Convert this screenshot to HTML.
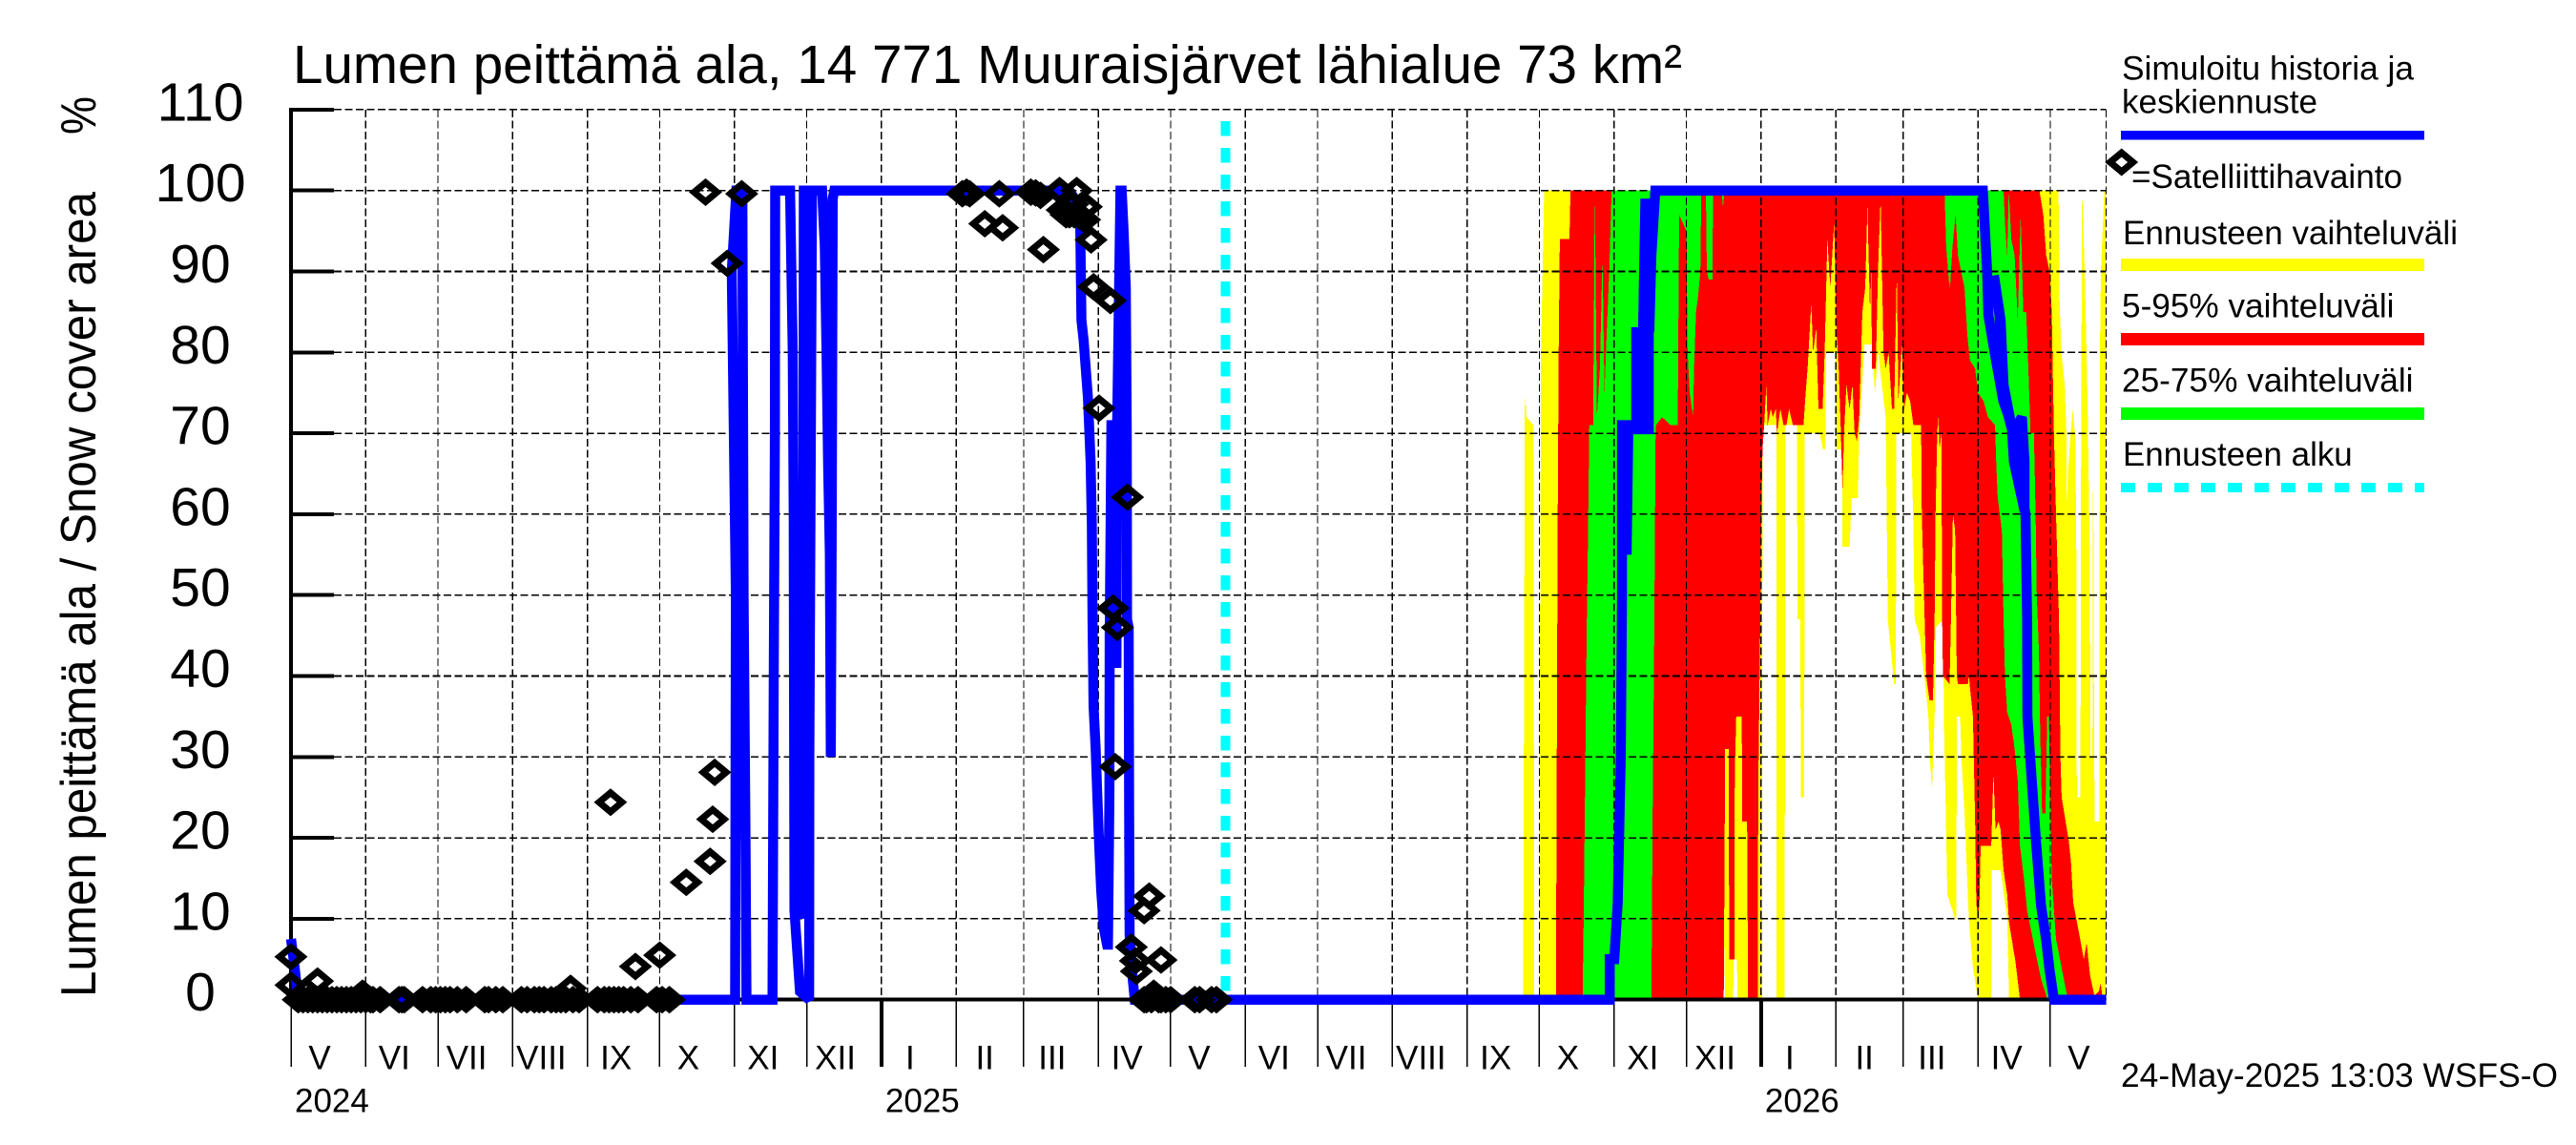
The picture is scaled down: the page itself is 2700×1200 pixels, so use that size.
<!DOCTYPE html>
<html lang="fi">
<head>
<meta charset="utf-8">
<title>Lumen peittämä ala</title>
<style>
html,body{margin:0;padding:0;background:#fff;}
svg{display:block;}
text{font-family:"Liberation Sans",Arial,sans-serif;fill:#000;}
</style>
</head>
<body>
<svg id="chart" xmlns="http://www.w3.org/2000/svg" width="2700" height="1200" viewBox="0 0 2700 1200">
  <rect x="0" y="0" width="2700" height="1200" fill="#fff"/>
  <g id="bands" shape-rendering="crispEdges"></g>
  <g id="grid" shape-rendering="crispEdges"></g>
  <g id="axes" shape-rendering="crispEdges"></g>
  <g id="start"></g>
  <g id="lines"></g>
  <g id="observations"></g>
  <g id="labels"></g>

  <text x="307" y="87" font-size="57" textLength="1456" lengthAdjust="spacingAndGlyphs">Lumen peittämä ala, 14 771 Muuraisjärvet lähialue 73 km²</text>
  <text transform="translate(100,1045) rotate(-90)" font-size="52" textLength="844" lengthAdjust="spacingAndGlyphs">Lumen peittämä ala / Snow cover area</text>
  <text transform="translate(100,141) rotate(-90)" font-size="52" textLength="40" lengthAdjust="spacingAndGlyphs">%</text>

  <g>
    <text x="2224" y="83.5" font-size="35" textLength="306" lengthAdjust="spacingAndGlyphs">Simuloitu historia ja</text>
    <text x="2224" y="118.5" font-size="35" textLength="205" lengthAdjust="spacingAndGlyphs">keskiennuste</text>
    <rect x="2223" y="137" width="318" height="9.5" fill="#0000ff" shape-rendering="crispEdges"/>
    <polygon points="2211.7,170 2223.7,160 2235.7,170 2223.7,180" fill="none" stroke="#000" stroke-width="7"/>
    <text x="2234" y="197" font-size="35" textLength="284" lengthAdjust="spacingAndGlyphs">=Satelliittihavainto</text>
    <text x="2225" y="256" font-size="35" textLength="351" lengthAdjust="spacingAndGlyphs">Ennusteen vaihteluväli</text>
    <rect x="2223" y="271" width="318" height="13" fill="#ffff00" shape-rendering="crispEdges"/>
    <text x="2224" y="332.5" font-size="35" textLength="285.5" lengthAdjust="spacingAndGlyphs">5-95% vaihteluväli</text>
    <rect x="2223" y="349" width="318" height="13" fill="#ff0000" shape-rendering="crispEdges"/>
    <text x="2224" y="410.5" font-size="35" textLength="305.5" lengthAdjust="spacingAndGlyphs">25-75% vaihteluväli</text>
    <rect x="2223" y="427" width="318" height="13" fill="#00ff00" shape-rendering="crispEdges"/>
    <text x="2225" y="488" font-size="35" textLength="240.7" lengthAdjust="spacingAndGlyphs">Ennusteen alku</text>
    <line x1="2223" y1="511" x2="2541" y2="511" stroke="#00ffff" stroke-width="10" stroke-dasharray="15 13" shape-rendering="crispEdges"/>
  </g>
  <text x="2223" y="1139" font-size="35" textLength="458" lengthAdjust="spacingAndGlyphs">24-May-2025 13:03 WSFS-O</text>
</svg>

<script>
// Axis data. Days are counted from 2024-05-01.
const yTicks = [0, 10, 20, 30, 40, 50, 60, 70, 80, 90, 100, 110];
const monthDays = [0, 31, 61, 92, 123, 153, 184, 214, 245, 276, 304, 335, 365, 396, 426, 457, 488, 518, 549, 579, 610, 641, 669, 700, 730];
const monthLabels = ["V", "VI", "VII", "VIII", "IX", "X", "XI", "XII", "I", "II", "III", "IV", "V", "VI", "VII", "VIII", "IX", "X", "XI", "XII", "I", "II", "III", "IV", "V"];
const yearDays = [0, 245, 610];
const yearLabels = ["2024", "2025", "2026"];
const lastDay = 753.2;
const forecastStartDay = 387.8;

// Forecast ranges: upper and lower edge of each band.
const yellowHighDays = [511.3,512,512.7,515.5,515.9,518,518.2,518.7,520,733.4,733.9,734.6,736,736.7,736.9,737.3,738.7,739.4,740.4,740.8,741,742.5,742.7,743,743.2,744.3,745.4,746.4,746.7,747.5,747.8,748.2,748.5,750.3,750.6,751,752.4,753.1];
const yellowHighValues = [0,75,72,71,0,0,40,80,100,100,86,80,76,70,60,65,71,73,69,55,25,25,60,85,100,90,75,55,30,30,71,30,22,22,80,90,100,100];
const yellowLowDays = [511.3,594.2,594.5,595.1,598.4,598.6,600,600.2,610.4,610.6,616.3,616.4,619.8,620,624.9,625.1,626.3,626.5,627.9,628.1,634.3,635.7,636.6,637,640.8,641.4,643.5,643.8,646.7,647.6,650.2,650.7,652.9,655.9,657.3,658.5,661.7,662.6,665.2,665.9,666.1,672.3,673.2,673.7,675.8,678.1,679.4,680.2,680.9,682,682.5,685.5,685.9,687.3,690.5,691,691.2,692.6,693.1,694.4,696.2,697.9,700,705.5,705.7,709.4,712.1,712.9,753.1];
const yellowLowValues = [0,0,10,0,0,5,5,0,0,71,71,0,0,71,71,47,47,25,25,70,70,68,68,80,80,68,68,56,56,62,62,70,81,81,75,80,72,47,39,39,70,70,58,47,45,39,35,29,26,35,46,47,34,13,10,10,35,35,30,23,10,4,0,0,16,16,10,0,0];

const redHighDays = [524.9,525.1,525.6,526,526.5,530.5,530.9,725.5,727.1,728.3,729.7,730.6,731.5,732.4,733.6,734.2,734.7,737.7,738.6,739.5,742.1,743.9,745.1,746.5,748.3,750.1,750.9,751.8,753.1];
const redHighValues = [0,20,60,80,94,94,100,100,97,92,90,85,70,60,47,30,25,19.6,17,12,8,5,7,3,0.5,1,2,0,0];
const redLowDays = [524.9,594.5,594.7,595.1,596.5,596.8,598.9,599.1,599.7,602,602.1,604.2,604.6,608.7,608.8,609.6,610.1,610.6,611.3,612.2,612.7,614,614.9,616.1,616.6,618,619.3,620.5,621.6,623.2,627.6,628.5,629.3,630.8,631.6,632.9,633.8,635.5,636.4,637.5,638.7,640.3,641.4,642.2,643.1,643.8,644.4,645.4,646.7,647.9,648.8,649.8,650.7,652,653.2,654.1,655.2,655.7,656,657.6,658.5,659.6,660.8,661.7,662.9,664.3,665.2,666.3,667,668.4,669.3,670.5,671.8,673.2,676.4,676.7,677.6,678.5,679.9,681.3,682,682.4,683.1,683.4,684.1,684.8,685.2,685.5,688.2,688.7,689.6,690.5,691.2,691.7,695.8,696.2,697.9,698.8,699.3,700,700.6,701.1,705.5,706.4,707.3,708.5,709.4,710.6,712.1,712.9,715.6,717.4,753.1];
const redLowValues = [0,0,10,31,31,5,5,28,35,35,22,22,0,0,25,45,60,68,71,76,71,73,72,73,70,73,71,71,73,71,71,75,78,86,80,83,73,73,80,94,88,96,82,78,70,63,70,76,73,76,70,69,72,85,88,98,85,90,78,78,90,99,80,78,80,73,73,90,74,81,73,75,74,71,71,60,50,40,37,37,47,60,70,72,68,70,45,40,39,46,60,58,40,39,39,40,35,22,12,10,12,19,19,28,21,22,21,16,13,9.5,4.6,0,0];

const greenHighDays = [535.9,536.4,537.1,537.6,538.1,538.7,540.3,541,541.9,543.1,544.2,545,545.9,547,548,710.6,711.2,712.1,712.8,713.8,715.2,716.5,717.7,718.8,720,720.9,721.8,723.2,723.9,724.4,725.3,725.8,726.6,728,728.7,729.4,730.1,730.6,732.4,735,737.3];
const greenHighValues = [0,10,30,45,55,71,71,100,72,78,92,75,82,90,100,100,96,92,100,94,92,84,97,85,85,78,70,70,60,50,43,33,23,23,35,35,24,15,7.5,3.5,0];
const greenLowDays = [535.9,564.5,565,565.7,566.2,566.4,568.9,572.4,575.4,576,579,579.5,580.4,581.8,582.2,583,583.9,584.8,585.2,587.1,587.5,588.3,589.8,590.1,593.6,594.2,594.9,686.1,686.8,687.9,688.4,689.4,690.7,691.7,693,694.4,695.6,696.7,698.8,700,702.3,704.1,707.1,707.6,708.2,709.9,710.6,711.2,712.1,713.8,715.2,716.5,717.4,719.1,720.4,722.7,726.2,728.9,737.3];
const greenLowValues = [0,0,23,47,69,71,72,71,71,97,95,80,75,72,78,85,87,90,100,100,90,89,89,100,100,98,100,100,93,89,88,93,97,92,90,88,82,79,78,75,74,72,71,66,62,58,47,40,35.5,34,31,27,19,15,11,7.6,2.5,0,0];

// Simulated history and mean forecast.
const historyDays = [0,1.5,3,182.2,184.3,184.6,182.9,184.8,187.3,187.8,188.6,189,199.8,200.3,200.8,200.9,207.1,208.2,208.6,208.9,210.3,211.2,215,215.1,216.2,212.8,212.5,212.8,218.2,220.4,221.5,222.2,222.9,223.6,224,224.4,224.8,225.4,323,327.2,327.5,328,328.9,330.7,331.8,332.3,332.6,333,333.9,334.6,335.3,336.2,337.3,338.6,339,339.6,339.7,340,340.4,342.5,342.5,342.8,344.2,344.7,345.5,346.4,346.8,346.9,347.6,347.8,348,349.3,350.1,387.8];
const historyValues = [7.5,4,0,0,0,50,90,100,100,50,20,0,0,40,70,100,100,80,60,11,5,1,0,30,100,100,10,100,100,100,93,80,66,55,30,60,99,100,100,98,95,84,81.5,74.4,66.5,58.7,47.3,36.3,31,25,19.4,13.5,8.8,6.8,6.8,25,45,55,71,71,41,71,100,100,95,88,70,47,46,23,8,2.5,0,0];
const forecastDays = [387.8,547.2,547.2,549.1,550.5,551.8,552.3,552.3,554.2,554.2,554.9,563.4,563.4,558.2,558.2,561,561,562,563.6,564.5,566.1,702,703.8,704.3,706.9,710.5,714,714.9,719.3,719.3,718.2,714.5,711,709.8,708.9,706.6,709.4,710.6,713.8,719.7,720.4,720.5,722.3,724.1,726.2,728.2,729.7,731.5,753.2];
const forecastValues = [0,0,5,5,12,30,50,71,71,55,70.5,70.5,82.5,82.5,71,71,82.5,99,82.5,92,100,100,90,84.6,80,74,71,66.5,60.4,66.5,72,70,74,80,84.6,89.5,84,76,71,60,47,35,27.2,19.4,11.5,7.6,3.7,0,0];

// Satellite observations.
const obsDays = [37,44.8,47,54.6,72.7,80.4,87.9,95.6,119.5,127.2,144,151.7,3,5,7,9,11,13,15,17,19,21,23,25,27,29,31,33,34,46,58,60,62,64,66,69,82,85,98,101,103,105,108,110,112,114,117,130,132,134,136,138,141,154,157,29.7,116,0,0,11,142.9,153,164,173.9,132.6,175,175.8,172,187,181,278.6,280.3,281.6,293.9,307,309,311,318.9,326,321.6,323,325,327.2,330,329.3,320,324.4,287.9,295.3,312.2,332,333,340,335.3,347.1,341.1,342.9,342,356.1,354,348.7,350.4,350.8,361,354,355,357,358,360,361,363,365,375,377,382,384];
const obsValues = [0,0,0,0,0,0,0,0,0,0,0,0,0,0,0,0,0,0,0,0,0,0,0,0,0,0,0,0,0,0,0,0,0,0,0,0,0,0,0,0,0,0,0,0,0,0,0,0,0,0,0,0,0,0,0,0.8,1.4,5.3,1.8,2.3,4.1,5.5,14.5,17.1,24.4,22.3,28.1,99.8,99.6,91,99.6,99.8,99.6,99.6,99.8,99.7,99.4,100,100,97,97,97,96.8,98,96.4,97.6,98.3,95.9,95.4,92.7,93.9,88.1,86.4,73.1,62.1,48.4,46,28.8,12.8,11,6.5,4.8,3.5,4.9,0,0,0,0.8,0,0,0,0,0,0,0,0];

// Axis functions.
const xScale = function (day) { return 305 + 2.526 * day; };
const yScale = function (value) { return 1047.7 - 8.48 * value; };

const SVG_NS = "http://www.w3.org/2000/svg";
function add(parentId, tag, attrs) {
  const node = document.createElementNS(SVG_NS, tag);
  for (const key in attrs) node.setAttribute(key, attrs[key]);
  document.getElementById(parentId).appendChild(node);
  return node;
}
function pointList(days, values) {
  return days.map(function (d, i) { return xScale(d).toFixed(1) + "," + yScale(values[i]).toFixed(1); });
}
function bandPoints(highDays, highValues, lowDays, lowValues) {
  return pointList(highDays, highValues).concat(pointList(lowDays, lowValues).reverse()).join(" ");
}

// Bands
const yellowBand = add("bands", "polygon", { points: bandPoints(yellowHighDays, yellowHighValues, yellowLowDays, yellowLowValues), fill: "#ffff00" });


const redBand = add("bands", "polygon", { points: bandPoints(redHighDays, redHighValues, redLowDays, redLowValues), fill: "#ff0000" });


const greenBand = add("bands", "polygon", { points: bandPoints(greenHighDays, greenHighValues, greenLowDays, greenLowValues), fill: "#00ff00" });



// Horizontal grid, ticks and value labels
yTicks.forEach(function (v) {
  if (v > 0) {
    const gridH = add("grid", "line", { x1: 350, x2: xScale(lastDay), y1: yScale(v), y2: yScale(v), stroke: "#000", "stroke-width": 1.6, "stroke-dasharray": "8 3.5" });
    
    
    const tick = add("axes", "line", { x1: 305, x2: 350, y1: yScale(v), y2: yScale(v), stroke: "#000", "stroke-width": 4 });
    
    
  }
  const label = add("labels", "text", { x: 210, y: yScale(v) + 11.5, "font-size": 57, "text-anchor": "middle" });
  label.textContent = String(v);
  
  
});

// Vertical grid, month ticks and month labels
monthDays.forEach(function (d, i) {
  const x = xScale(d);
  const gridV = add("grid", "line", { x1: x, x2: x, y1: yScale(110), y2: yScale(0), stroke: "#000", "stroke-width": 1.3, "stroke-dasharray": "8 3.5" });
  
  
  const isYearStart = yearDays.indexOf(d) > 0;
  const tick = add("axes", "line", { x1: x, x2: x, y1: yScale(0), y2: 1118, stroke: "#000", "stroke-width": isYearStart ? 4 : 1.5 });
  
  
  const label = add("labels", "text", { x: x + 30, y: 1120.5, "font-size": 35, "text-anchor": "middle" });
  label.textContent = monthLabels[i];
  
  
});
const rightEdge = add("grid", "line", { x1: xScale(lastDay), x2: xScale(lastDay), y1: yScale(110), y2: yScale(0), stroke: "#000", "stroke-width": 1.3, "stroke-dasharray": "8 3.5" });



yearDays.forEach(function (d, i) {
  const label = add("labels", "text", { x: xScale(d) + 4, y: 1165.5, "font-size": 35 });
  label.textContent = yearLabels[i];
  
  
});

// Axis lines
const yAxis = add("axes", "line", { x1: 305, x2: 305, y1: yScale(110) - 2, y2: yScale(0) + 2, stroke: "#000", "stroke-width": 4 });


const xAxis = add("axes", "line", { x1: 305, x2: xScale(lastDay), y1: yScale(0), y2: yScale(0), stroke: "#000", "stroke-width": 4 });



// Forecast start marker
const startLine = add("start", "line", { x1: xScale(forecastStartDay), x2: xScale(forecastStartDay), y1: 127, y2: yScale(0), stroke: "#00ffff", "stroke-width": 10, "stroke-dasharray": "15.5 12.5" });
startLine.setAttribute('shape-rendering', 'crispEdges');



// Simulated lines
const lineStyle = { fill: "none", stroke: "#0000ff", "stroke-width": 10.5, "stroke-linejoin": "miter", "stroke-miterlimit": 2 };
const historyLine = add("lines", "polyline", Object.assign({ points: pointList(historyDays, historyValues).join(" ") }, lineStyle));


const forecastLine = add("lines", "polyline", Object.assign({ points: pointList(forecastDays, forecastValues).join(" ") }, lineStyle));



// Observation markers
obsDays.forEach(function (d, i) {
  const cx = xScale(d);
  const cy = yScale(obsValues[i]);
  const points = [[cx - 12, cy], [cx, cy - 10], [cx + 12, cy], [cx, cy + 10]].map(function (p) { return p[0].toFixed(1) + "," + p[1].toFixed(1); }).join(" ");
  const marker = add("observations", "polygon", { points: points, fill: "none", stroke: "#000", "stroke-width": 7 });
  
  
});
</script>
</body>
</html>
